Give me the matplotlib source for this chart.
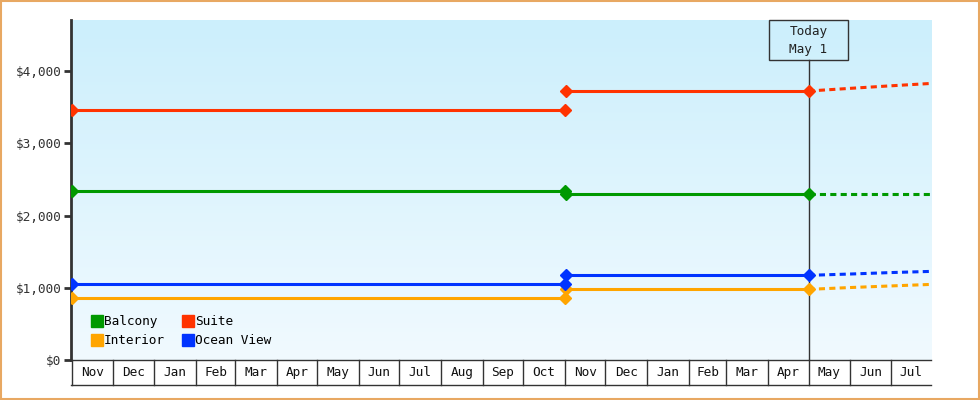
import numpy as np
import matplotlib
matplotlib.use("Agg")
import matplotlib.pyplot as plt
import matplotlib.dates as mdates
from matplotlib.patches import Rectangle
from matplotlib.lines import Line2D
from datetime import date, timedelta

plt.rcParams["font.family"] = ["DejaVu Sans Mono"]

# data
seg1_dates = [date(2023, 11, 1), date(2024, 11, 1)]
seg2_dates = [date(2024, 11, 2), date(2025, 5, 1)]
proj_dates = [date(2025, 5, 1), date(2025, 6, 1), date(2025, 7, 1), date(2025, 8, 1)]

series = ["Balcony", "Interior", "Suite", "Ocean View"]
colors = ["#009900", "#ffa500", "#ff3300", "#0033ff"]
seg1_vals = [[2340, 2340], [854, 854], [3460, 3460], [1056, 1056]]
seg2_vals = [[2295, 2295], [978, 978], [3723, 3723], [1172, 1172]]
proj_vals = [[2295, 2295, 2295, 2295],
             [978, 1003, 1025, 1047],
             [3723, 3760, 3795, 3829],
             [1172, 1190, 1210, 1227]]

y_ticks = [0, 1000, 2000, 3000, 4000]
today = date(2025, 5, 1)
x_start, x_end = date(2023, 10, 31), date(2025, 7, 31)
first_month = date(2023, 11, 1)

fig = plt.figure(figsize=(9.8, 4.0), dpi=100)
ax = fig.add_axes([71 / 980, 40 / 400, 860 / 980, 340 / 400])

# gradient background
grad = np.linspace(0, 1, 256).reshape(-1, 1)
top = np.array([204, 239, 252]) / 255
bot = np.array([241, 250, 255]) / 255
img = top * (1 - grad[..., None]) + bot * grad[..., None]
ax.imshow(img, extent=[0, 1, 0, 1], transform=ax.transAxes, aspect="auto", zorder=0)

for name, c, v1, v2, vp in zip(series, colors, seg1_vals, seg2_vals, proj_vals):
    ax.plot(seg1_dates, v1, color=c, lw=2.2, marker="D", ms=6, zorder=3)
    ax.plot(seg2_dates, v2, color=c, lw=2.2, marker="D", ms=6, zorder=3)
    ax.plot(proj_dates, vp, color=c, lw=2.2, ls=(0, (2, 1.4)), zorder=3)

ax.set_xlim(x_start, x_end)
ax.set_ylim(0, 4706)

# today marker
xt = ax.get_xaxis_transform()
ax.plot([today, today], [0, 0.882], color="#333333", lw=1, zorder=2, transform=xt)
half = timedelta(days=29.7)
ax.add_patch(Rectangle((mdates.date2num(today - half), 0.882),
                       mdates.date2num(today + half) - mdates.date2num(today - half),
                       0.118, transform=xt, facecolor="none", edgecolor="#333333",
                       lw=1, zorder=4, clip_on=False))
ax.text(today, 0.965, "Today", transform=xt, ha="center", va="center",
        fontsize=9.2, color="#222222")
ax.text(today, 0.912, "May 1", transform=xt, ha="center", va="center",
        fontsize=9.2, color="#222222")

# y axis
ax.set_yticks(y_ticks)
ax.set_yticklabels(["$0" if t == 0 else f"${t:,}" for t in y_ticks])
ax.tick_params(axis="y", length=5, width=2, color="#333333", labelsize=9.2,
               labelcolor="#333333", pad=2)
for s in ["top", "right"]:
    ax.spines[s].set_visible(False)
ax.spines["left"].set_linewidth(2)
ax.spines["left"].set_color("#333333")
ax.spines["bottom"].set_linewidth(1)
ax.spines["bottom"].set_color("#333333")

# month cells under the axis
ax.set_xticks([])
months = []
d = first_month
while d < x_end:
    nd = date(d.year + (d.month == 12), d.month % 12 + 1, 1)
    months.append((d, nd))
    d = nd
cell_bot = -25 / 340
for a, b in months:
    ax.plot([a, a], [0, cell_bot], color="#333333", lw=1, transform=xt, clip_on=False)
    mid = mdates.num2date((mdates.date2num(a) + mdates.date2num(min(b, x_end))) / 2)
    ax.text(mid, cell_bot / 2, a.strftime("%b"), transform=xt, ha="center",
            va="center", fontsize=9.2, color="#111111", clip_on=False)
ax.plot([x_start, x_end], [cell_bot, cell_bot], color="#333333", lw=1,
        transform=xt, clip_on=False)

# legend
handles = [Line2D([], [], ls="none", marker="s", ms=8, color=c) for c in colors]
ax.legend(handles, series, ncol=2, loc="lower left", bbox_to_anchor=(0.012, 0.003),
          frameon=False, handlelength=0.7, handletextpad=0.15, columnspacing=1.5,
          labelspacing=0.5, fontsize=9.2)

# outer border
fig.add_artist(Rectangle((0.001, 0.002), 0.998, 0.996, transform=fig.transFigure,
                         fill=False, edgecolor="#e8a862", lw=1.5))

fig.savefig("out.png", dpi=100)
